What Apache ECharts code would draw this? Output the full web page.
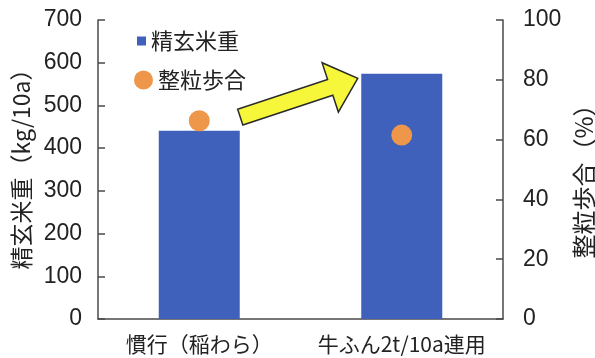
<!DOCTYPE html>
<html>
<head>
<meta charset="utf-8">
<script src="https://cdn.jsdelivr.net/npm/echarts@6/dist/echarts.min.js"></script>
<style>
  html, body { margin: 0; padding: 0; background: #fff; }
  #chart { width: 595px; height: 358px; }
</style>
</head>
<body>
<div id="chart"></div>
<script>
// Brown rice yield and whole-grain ratio: conventional vs. cattle manure application
const categories = ['慣行（稲わら）', '牛ふん2t/10a連用'];
const riceYield = [441, 574];      // 精玄米重 (kg/10a)
const wholeGrain = [66.3, 61.5];   // 整粒歩合 (%)
const yieldTicks = [0, 100, 200, 300, 400, 500, 600, 700];
const ratioTicks = [0, 20, 40, 60, 80, 100];

const numFont = '"Liberation Sans", Arial, sans-serif';
const cjkFont = '"Noto Sans CJK JP", "Noto Sans CJK SC", sans-serif';
const ink = '#222';
const axisInk = '#4a4a4a';

const chart = echarts.init(document.getElementById('chart'), null, { renderer: 'canvas' });

chart.setOption({
  animation: false,
  backgroundColor: '#fff',
  grid: { left: 98, right: 92, top: 20, bottom: 39, containLabel: false, outerBoundsMode: 'none' },
  legend: [
    {
      data: [{ name: '精玄米重', icon: 'rect' }],
      left: 137, top: 30, padding: 0,
      itemWidth: 9, itemHeight: 9,
      textStyle: { fontFamily: cjkFont, fontSize: 22, color: ink }
    },
    {
      data: [{ name: '整粒歩合', icon: 'circle' }],
      left: 134, top: 69, padding: 0,
      itemWidth: 19, itemHeight: 19,
      textStyle: { fontFamily: cjkFont, fontSize: 22, color: ink }
    }
  ],
  xAxis: {
    type: 'category',
    data: categories,
    axisLine: { lineStyle: { color: axisInk, width: 1.5 } },
    axisTick: { show: false },
    axisLabel: { fontFamily: cjkFont, fontSize: 21, color: ink, margin: 15, interval: 0 }
  },
  yAxis: [
    {
      type: 'value', min: 0, max: 700, interval: 100,
      name: '精玄米重（kg/10a）',
      nameLocation: 'middle', nameGap: 64, nameRotate: 90,
      nameTextStyle: { fontFamily: cjkFont, fontSize: 23, color: ink, padding: [0, 0, 0, 12] },
      axisLine: { show: true, lineStyle: { color: axisInk, width: 1.5 } },
      axisTick: { show: true, inside: true, length: 7, lineStyle: { color: axisInk, width: 1.5 } },
      axisLabel: {
        fontFamily: numFont, fontSize: 23, color: ink, margin: 16,
        formatter: v => (yieldTicks.includes(v) ? String(v) : '')
      },
      splitLine: { show: false }
    },
    {
      type: 'value', min: 0, max: 100, interval: 20,
      name: '整粒歩合（%）',
      nameLocation: 'middle', nameGap: 57, nameRotate: 90,
      nameTextStyle: { fontFamily: cjkFont, fontSize: 24, color: ink, padding: [0, 12, 0, 0] },
      axisLine: { show: true, lineStyle: { color: axisInk, width: 1.5 } },
      axisTick: { show: true, inside: true, length: 7, lineStyle: { color: axisInk, width: 1.5 } },
      axisLabel: {
        fontFamily: numFont, fontSize: 23, color: ink, margin: 20,
        formatter: v => (ratioTicks.includes(v) ? String(v) : '')
      },
      splitLine: { show: false }
    }
  ],
  series: [
    {
      name: '精玄米重', type: 'bar', yAxisIndex: 0,
      data: riceYield, barWidth: 81,
      itemStyle: { color: '#4061bb' }
    },
    {
      name: '整粒歩合', type: 'scatter', yAxisIndex: 1,
      data: wholeGrain, symbolSize: 21, z: 5,
      itemStyle: { color: '#ee964a', opacity: 1 }
    }
  ]
});

// Yellow arrow from the top of the first bar toward the taller second bar
function drawArrow() {
  const barHalf = 81 / 2;
  const top1 = chart.convertToPixel({ xAxisIndex: 0, yAxisIndex: 0 }, [0, riceYield[0]]);
  const top2 = chart.convertToPixel({ xAxisIndex: 0, yAxisIndex: 0 }, [1, riceYield[1]]);
  const tail = [top1[0] + barHalf + 0.5, top1[1] - 13.5];
  const tip = [top2[0] - barHalf - 3.5, top2[1] + 4.5];
  const dx = tip[0] - tail[0], dy = tip[1] - tail[1];
  const len = Math.sqrt(dx * dx + dy * dy);
  const ang = Math.atan2(-dy, dx);
  const headLen = 29, headHalf = 26, shaftHalf = 8.3;
  const pts = [
    [0, -shaftHalf], [len - headLen, -shaftHalf], [len - headLen, -headHalf],
    [len, 0], [len - headLen, headHalf], [len - headLen, shaftHalf], [0, shaftHalf]
  ];
  chart.setOption({
    graphic: [{
      type: 'polygon',
      x: tail[0], y: tail[1], rotation: ang,
      shape: { points: pts },
      style: { fill: '#f6f63a', stroke: '#2b2b2b', lineWidth: 1.5, lineJoin: 'miter' },
      z: 10
    }]
  });
}
drawArrow();
</script>
</body>
</html>
